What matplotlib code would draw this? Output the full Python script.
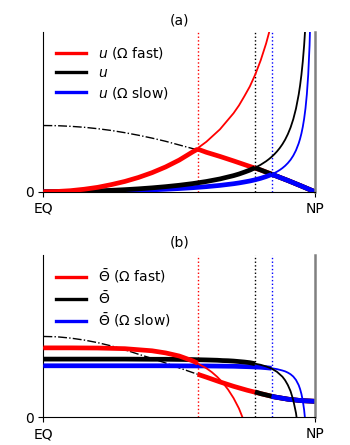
import numpy as np
import matplotlib.pyplot as plt
from matplotlib.lines import Line2D

nan = np.nan

# latitude, 0 = equator, 1 = north pole
x_u = [0, .05, .1, .15, .2, .25, .3, .35, .4, .45, .5, .55, .6, .65, .7,
       .72, .74, .76, .78, .8, .82, .83, .84, .85, .86, .87, .88, .89, .9,
       .91, .92, .93, .94, .945, .95, .955, .96, .965, .97, .975, .98, .985, .99]
# angular momentum conserving wind (thin curves)
u_fast = [0, .002, .007, .016, .028, .045, .065, .090, .120, .156, .199, .251,
          .314, .392, .493,
          .542, .600, .661, .736, .825, .931, .994, 1.063,
          nan, nan, nan, nan, nan, nan, nan, nan, nan, nan,
          nan, nan, nan, nan, nan, nan, nan, nan, nan, nan]
u_mid = [0, .0004, .0014, .0032, .0058, .0092, .0134, .0186, .0248, .0322,
         .0410, .0516, .0646, .0807, .1014,
         .1115, .1235, .1362, .1515, .1698, .1917, .2046, .2189, .2350, .2533,
         .2742, .2986, .3272, .3617, .4032, .4556, .5223, .6107, .667, .7343,
         .817, .9199, 1.052, nan, nan, nan, nan, nan]
u_slow = [0, .0002, .0007, .0016, .0029, .0046, .0067, .0093, .0123, .0160,
          .0204, .0257, .0322, .0402, .0505,
          .0556, .0615, .0678, .0755, .0846, .0955, .1019, .1091, .1171, .1262,
          .1366, .1488, .1631, .1803, .2009, .2270, .2603, .3043, .3324, .3659,
          .4072, .4584, .524, .6121, .734, .919, 1.224, 1.841]

# radiative-equilibrium curves (dash-dot)
x_e = [0, .05, .1, .15, .2, .25, .3, .35, .4, .45, .5, .55, .6, .65, .7, .75,
       .8, .85, .9, .95, 1.0]
u_eq = [.416, .415, .411, .405, .396, .385, .371, .355, .337, .317, .294,
        .271, .248, .222, .194, .165, .137, .104, .071, .036, 0]
th_eq = [.497, .495, .487, .475, .459, .439, .415, .388, .362, .334, .304,
         .275, .247, .218, .191, .167, .146, .126, .112, .103, .099]

# potential temperature inside the cell (thin curves)
x_t = [0, .1, .2, .3, .4, .45, .5, .55, .6,
       .62, .64, .66, .68, .7, .72, .74, .76,
       .8, .82, .84, .86, .88, .89, .9, .91, .92, .93, .94, .945, .95, .955,
       .96, .965, .97]
th_fast = [.427, .427, .426, .422, .409, .396, .377, .347, .302,
           .278, .249, .214, .171, .119, .055, -.029, nan,
           nan, nan, nan, nan, nan, nan, nan, nan, nan, nan, nan, nan, nan, nan,
           nan, nan, nan]
th_mid = [.358, .358, .358, .358, .357, .357, .356, .355, .353,
          .352, .351, .349, .348, .346, .343, .340, .336,
          .323, .313, .300, .280, .250, .228, .199, .161, .106, .027, -.094,
          nan, nan, nan, nan, nan, nan]
th_slow = [.317, .317, .317, .317, .317, .317, .3165, .316, .316,
           .3154, .3151, .3147, .3143, .314, .313, .312, .311,
           .308, .3052, .302, .2965, .288, .2827, .275, .265, .251, .230, .198,
           .1746, .144, .103, .046, -.037, -.166]

# Hadley cell edges and values where the thick curves switch
edges = [0.568, 0.779, 0.840]
u_edge_m = [0.268, 0.151, 0.109]
u_edge_e = [0.268, 0.151, 0.109]
th_edge_m = [0.333, 0.330, 0.302]
th_edge_e = [0.265, 0.157, 0.130]

colors = ['red', 'black', 'blue']
tags = [' ($\\Omega$ fast)', '', ' ($\\Omega$ slow)']


def before(xs, ys, xe, ye):
    xs, ys = np.array(xs), np.array(ys)
    m = xs < xe
    return np.append(xs[m], xe), np.append(ys[m], ye)


def after(xs, ys, xe, ye):
    xs, ys = np.array(xs), np.array(ys)
    m = xs > xe
    return np.insert(xs[m], 0, xe), np.insert(ys[m], 0, ye)


def style(ax, title):
    ax.set_xlim(0, 1)
    ax.set_ylim(0, 1)
    ax.set_xticks([0, 1])
    ax.set_xticklabels(['EQ', 'NP'], fontsize=10)
    ax.set_yticks([0])
    ax.set_yticklabels(['0'], fontsize=10)
    ax.spines['top'].set_visible(False)
    ax.spines['right'].set_color('gray')
    ax.spines['right'].set_linewidth(1.8)
    ax.set_title(title, fontsize=10)


fig = plt.figure(figsize=(3.5, 4.45), dpi=100)
ax1 = fig.add_axes([0.124, 0.569, 0.776, 0.358])
ax2 = fig.add_axes([0.124, 0.062, 0.776, 0.366])

panels = [
    (ax1, x_u, [u_fast, u_mid, u_slow], u_eq, u_edge_m, u_edge_e, '$u$', '(a)'),
    (ax2, x_t, [th_fast, th_mid, th_slow], th_eq, th_edge_m, th_edge_e,
     '$\\bar{\\Theta}$', '(b)'),
]

for ax, xm, curves, eq, em, ee, name, title in panels:
    ax.plot(x_e, eq, color='black', lw=1, ls='-.', zorder=1)
    for i in range(3):
        ax.axvline(edges[i], color=colors[i], lw=1, ls=':', zorder=1)
    # thick part poleward of the cell edge, on the equilibrium curve
    for i in range(3):
        xx, yy = after(x_e, eq, edges[i], ee[i])
        ax.plot(xx, yy, color=colors[i], lw=3.4, solid_capstyle='butt', zorder=2)
    # thin conserving curves and thick part inside the cell
    for i in [2, 1, 0]:
        ax.plot(xm, curves[i], color=colors[i], lw=1.3, zorder=3 + (2 - i))
        xx, yy = before(xm, curves[i], edges[i], em[i])
        ax.plot(xx, yy, color=colors[i], lw=3.4, solid_capstyle='butt',
                zorder=3 + (2 - i))
    handles = [Line2D([], [], color=colors[i], lw=2.4) for i in range(3)]
    ax.legend(handles, [name + tags[i] for i in range(3)], loc='upper left',
              frameon=False, fontsize=10, handlelength=2.2, labelspacing=0.35)
    style(ax, title)

fig.savefig('out.png', dpi=100)
